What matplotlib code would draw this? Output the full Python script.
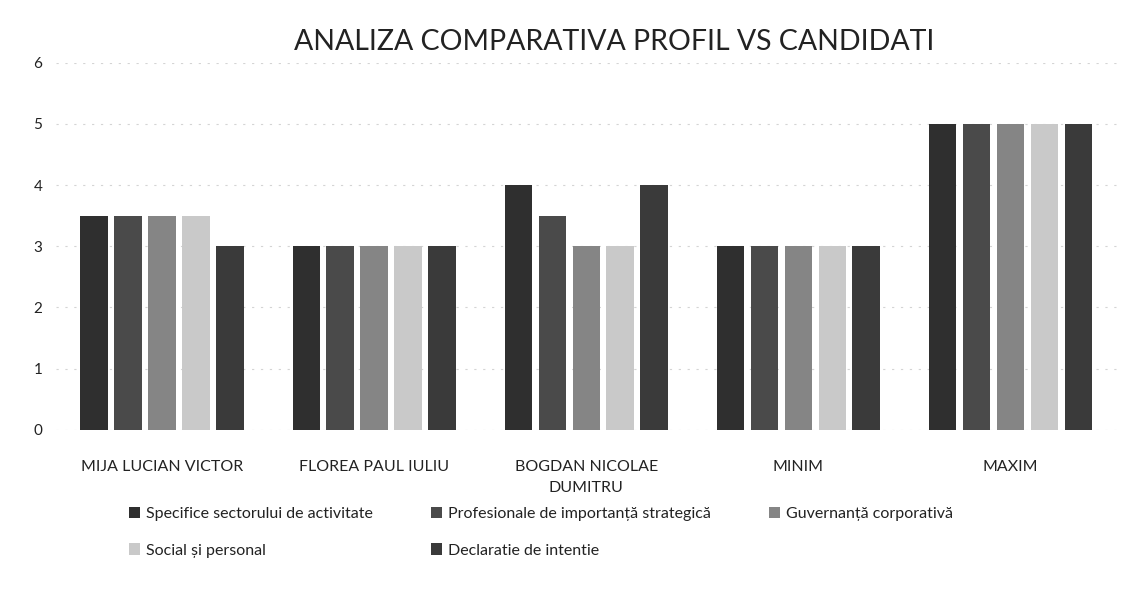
import numpy as np
import matplotlib.pyplot as plt

plt.rcParams['font.family'] = ['Lato', 'DejaVu Sans']

# Date
candidati = ["MIJA LUCIAN VICTOR", "FLOREA PAUL IULIU", "BOGDAN NICOLAE\nDUMITRU", "MINIM", "MAXIM"]
criterii = ["Specifice sectorului de activitate",
            "Profesionale de importanță strategică",
            "Guvernanță corporativă",
            "Social și personal",
            "Declaratie de intentie"]
specifice = [3.5, 3.0, 4.0, 3.0, 5.0]
profesionale = [3.5, 3.0, 3.5, 3.0, 5.0]
guvernanta = [3.5, 3.0, 3.0, 3.0, 5.0]
social = [3.5, 3.0, 3.0, 3.0, 5.0]
declaratie = [3.0, 3.0, 4.0, 3.0, 5.0]
yticks = [0, 1, 2, 3, 4, 5, 6]

serii = [specifice, profesionale, guvernanta, social, declaratie]
culori = ["#2f2f2f", "#4a4a4a", "#858585", "#c9c9c9", "#3a3a3a"]

fig = plt.figure(figsize=(11.44, 5.97), dpi=100)
ax = fig.add_axes([0.049, 0.28, 0.927, 0.615])

x = np.arange(len(candidati))
pas = 0.16
latime = 0.13
bare = []
for i, (val, c) in enumerate(zip(serii, culori)):
    b = ax.bar(x + (i - 2) * pas, val, latime, color=c, label=criterii[i], zorder=2)
    bare.append(b)

ax.set_xlim(-0.5, len(candidati) - 0.5)
ax.set_ylim(0, 6)
ax.set_yticks(yticks)
ax.set_xticks(x)
ax.set_xticklabels(candidati, fontsize=11.5, color="#222222", linespacing=1.6)
ax.tick_params(axis="x", length=0, pad=22)
ax.tick_params(axis="y", length=0, pad=10, labelsize=11, labelcolor="#222222")
ax.yaxis.grid(True, color="#d4d4d4", linestyle=(0, (2, 6)), linewidth=0.8, zorder=0)
for s in ax.spines.values():
    s.set_visible(False)

fig.text(0.537, 0.93, "ANALIZA COMPARATIVA PROFIL VS CANDIDATI", fontsize=20.5,
         color="#222222", ha="center", va="center")

# ordinea pe randuri ca in original
ordine = [0, 3, 1, 4, 2]
leg = fig.legend([bare[k] for k in ordine], [criterii[k] for k in ordine],
                 ncol=3, loc="upper left", bbox_to_anchor=(0.1, 0.175),
                 frameon=False, fontsize=11.5, handlelength=0.7, handleheight=0.7,
                 handletextpad=0.4, columnspacing=3.6, labelspacing=1.4)
for t in leg.get_texts():
    t.set_color("#222222")

fig.savefig("out.png", dpi=100)
